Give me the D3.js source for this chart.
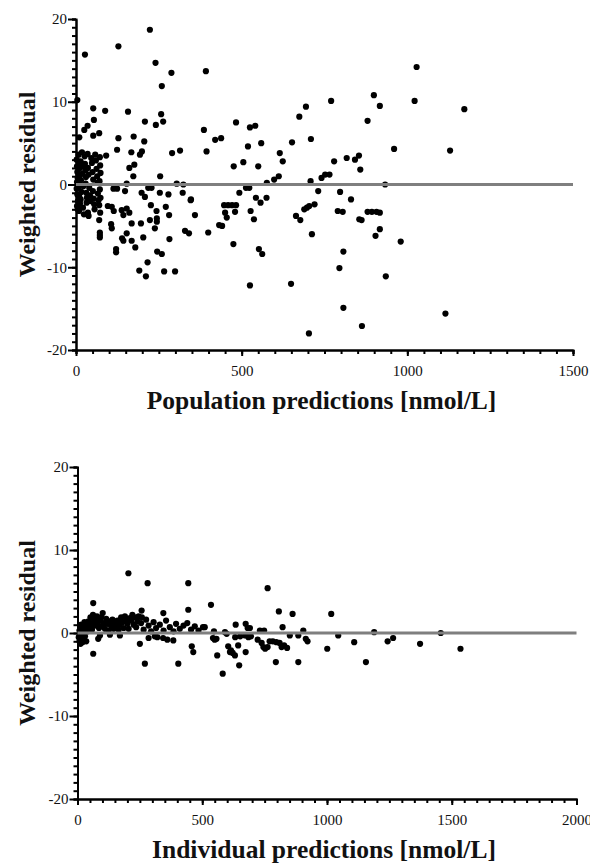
<!DOCTYPE html>
<html>
<head>
<meta charset="utf-8">
<script src="https://cdn.jsdelivr.net/npm/d3@7"></script>
<style>
  body { margin: 0; background: #fff; }
</style>
</head>
<body>
<div id="chart"></div>
<script>
// population predictions (x) and weighted residuals (y), top panel
const popPred = [
  27, 223, 128, 240, 288, 259, 4, 52, 88, 157, 257, 241, 263, 208, 54, 35, 25, 10, 52, 70,
  128, 174, 206, 124, 91, 167, 193, 199, 314, 290, 161, 176, 173, 254, 153, 304, 324, 113, 124, 148,
  198, 208, 218, 228, 253, 279, 322, 346, 359, 96, 108, 114, 138, 153, 161, 143, 226, 243, 271, 281,
  244, 244, 223, 196, 238, 106, 108, 168, 153, 139, 143, 168, 179, 203, 282, 329, 341, 121, 121, 245,
  259, 216, 191, 211, 266, 299, 70, 72, 72, 72, 36, 38, 392, 386, 394, 420, 438, 483, 519, 525,
  541, 559, 476, 505, 550, 615, 624, 652, 674, 694, 709, 770, 779, 817, 842, 854, 858, 880, 899, 917,
  598, 612, 576, 708, 741, 752, 765, 347, 493, 513, 523, 543, 575, 731, 797, 830, 399, 432, 441, 450,
  455, 447, 459, 471, 483, 480, 475, 527, 537, 557, 552, 562, 525, 649, 703, 664, 677, 689, 697, 704,
  720, 712, 790, 805, 795, 807, 807, 855, 862, 880, 893, 907, 904, 917, 863, 1028, 1022, 1172, 960, 1129,
  933, 980, 935, 1115, 917,
  2, 3, 4, 5, 3, 2, 4, 6, 3, 5, 8, 9, 10, 11, 8, 10, 12, 9, 14, 15,
  16, 14, 18, 20, 19, 22, 21, 24, 26, 27, 28, 30, 29, 31, 33, 32, 35, 36, 38, 40,
  42, 44, 46, 48, 50, 52, 51, 53, 55, 56, 58, 60, 62, 64, 65, 66, 68, 70, 72, 73,
  74, 71, 72, 74, 73
];
const popWres = [
  15.7, 18.7, 16.7, 14.7, 13.5, 11.9, 10.2, 9.2, 8.9, 8.8, 8.5, 7.2, 7.6, 7.6, 7.8, 7.1, 6.6, 5.7, 5.9, 6.2,
  5.6, 5.8, 5.2, 4.2, 3.5, 3.9, 3.6, 4.0, 4.1, 3.8, 2.0, 2.4, 1.0, 1.0, 0.1, 0.1, 0, -0.5, -0.5, -0.8,
  -1.0, -1.5, -0.4, -0.4, -1.0, -1.2, -1.0, -1.9, -3.7, -2.6, -2.7, -3.2, -3.1, -2.9, -3.4, -3.7, -2.5, -3.2, -2.7, -3.7,
  -4.1, -4.5, -4.3, -4.7, -5.3, -4.8, -5.3, -4.7, -5.9, -6.5, -6.8, -6.8, -7.6, -6.4, -6.6, -5.6, -5.9, -7.8, -8.2, -8.1,
  -8.4, -9.4, -10.4, -11.1, -10.5, -10.5, -4.3, -5.8, -6.1, -6.4, -3.4, -3.8, 13.7, 6.6, 4.0, 5.4, 5.6, 7.5, 4.6, 6.9,
  7.1, 5.0, 2.2, 2.7, 2.2, 3.8, 2.8, 5.1, 8.2, 9.4, 5.5, 10.1, 2.8, 3.2, 3.0, 3.5, 1.8, 7.7, 10.8, 9.5,
  0.6, 1.0, 0.2, 0.4, 0.8, 1.2, 1.2, -1.8, -1.0, -0.4, -0.4, -1.6, -1.6, -0.8, -0.9, -1.8, -5.8, -4.9, -5.0, -3.4,
  -4.0, -2.5, -2.5, -2.5, -2.5, -3.3, -7.2, -3.2, -4.2, -2.2, -7.8, -8.4, -12.2, -12.0, -18.0, -3.8, -4.3, -3.0, -2.8, -2.6,
  -2.4, -6.0, -3.2, -3.3, -10.1, -8.1, -14.9, -4.2, -4.3, -3.3, -3.3, -3.3, -6.2, -5.4, -17.1, 14.2, 10.1, 9.1, 4.3, 4.1,
  0, -6.9, -11.1, -15.6, -3.4,
  3.0, 2.2, 1.5, 0.8, 0.3, -0.5, -1.2, -2.0, -2.6, -3.0, 3.6, 2.6, 1.9, 1.0, -0.3, -1.5, -2.3, -3.2, 2.8, 0.5,
  -0.9, -1.8, 3.9, 2.2, 1.3, -0.2, -2.8, -3.6, 3.4, 2.5, 1.7, 0.9, 0.1, -1.0, -1.6, -2.2, 3.7, 2.0, 1.2, -0.4,
  -1.3, -2.0, 3.2, 2.6, 1.5, 0.6, -0.8, -1.7, -2.4, -3.0, 3.6, 2.9, 1.9, 1.0, 0.2, -1.1, -1.9, -2.5, 3.3, 2.3,
  1.4, 0.4, -0.6, -1.6, -3.4
];

// individual predictions (x) and weighted residuals (y), bottom panel
const indPred = [
  204, 281, 444, 63, 101, 257, 344, 444, 63, 83, 250, 270, 310, 404, 343, 360, 384, 458, 464, 535,
  762, 807, 862, 1017, 503, 510, 547, 591, 598, 634, 674, 682, 691, 731, 748, 822, 905, 1189, 543, 550,
  557, 560, 582, 604, 611, 622, 631, 615, 644, 648, 632, 652, 672, 685, 695, 674, 722, 738, 745, 752,
  762, 770, 783, 797, 810, 818, 828, 840, 795, 851, 885, 915, 922, 885, 1001, 1045, 1109, 1156, 1243, 1265,
  1373, 1456, 1535,
  5, 8, 10, 12, 15, 18, 20, 25, 30, 35, 8, 12, 15, 20, 25, 28, 32, 36, 40, 44,
  48, 52, 55, 58, 62, 66, 70, 74, 78, 82, 86, 90, 95, 100, 105, 110, 115, 120, 125, 130,
  135, 140, 145, 150, 155, 160, 165, 170, 175, 180, 185, 190, 195, 200, 205, 210, 215, 220, 225, 230,
  235, 240, 245, 255, 265, 275, 285, 295, 305, 315, 330, 345, 355, 370, 385, 395, 410, 425, 440, 455,
  470, 485, 90, 130, 170, 285, 320, 258
];
const indWres = [
  7.2, 6.0, 6.0, 3.6, 2.4, 2.7, 2.4, 2.8, -2.5, -0.7, -1.3, -3.7, -0.4, -3.7, -0.6, -0.8, -0.9, -1.6, -2.3, 3.4,
  5.4, 2.6, 2.3, 2.3, 0.7, 0.7, 0.2, 0.1, -0.1, 1.0, 1.1, 0.6, 0.6, 0.3, 0.3, 0.7, 0.3, 0.1, -0.6, -0.8,
  -0.7, -2.7, -4.9, -1.6, -2.3, -2.4, -2.7, -2.1, -1.5, -3.9, -0.5, -0.4, -0.3, -0.5, -0.4, -2.3, -0.8, -1.2, -1.7, -1.9,
  -1.7, -1.0, -1.0, -1.1, -1.2, -1.7, -1.5, -1.8, -3.5, -0.3, -0.3, -0.7, -1.0, -3.5, -1.9, -0.3, -1.1, -3.5, -1.0, -0.6,
  -1.3, 0.0, -1.9,
  -0.5, -1.0, -0.8, -1.3, -0.3, -0.9, -1.1, -0.6, -0.4, -1.0, 0.3, 0.6, 1.0, 0.4, 0.8, 1.3, 0.5, 1.0, 0.2, 1.4,
  0.7, 1.9, 1.1, 0.4, 2.2, 1.6, 0.9, 1.3, 2.0, 1.0, 0.6, 1.5, 1.9, 0.8, 1.2, 0.5, 1.7, 1.1, 0.3, 1.4,
  0.8, 1.6, 0.5, 1.2, 0.9, 1.5, 0.4, 1.0, 1.9, 1.3, 0.6, 2.0, 1.7, 1.1, 0.5, 1.8, 1.5, 2.2, 1.0, 1.9,
  0.7, 1.4, 2.0, 1.2, 0.4, 1.6, 0.9, 0.2, 1.3, 0.6, 1.0, 0.3, 1.5, 0.7, 0.2, 1.1, 0.5, 0.9, 1.2, 0.4,
  0.8, 0.3, -0.3, -0.2, -0.3, -0.6, -0.5, 1.9
];

const yTicks = [-20, -10, 0, 10, 20];
const popTicks = [0, 500, 1000, 1500];
const indTicks = [0, 500, 1000, 1500, 2000];

const W = 590, H = 865;
const font = "'Liberation Serif', 'Times New Roman', serif";

const svg = d3.select("#chart")
  .append("svg")
    .attr("width", W)
    .attr("height", H)
    .style("background-color", "#fff");

// plain hyphen minus, no thousands separator
const plain = d => String(d);

function drawPanel(xs, ys, xTicks, xMax, box, xTitle) {
  const x = d3.scaleLinear()
    .domain([0, xMax])
    .range([box.left, box.right]);
  const y = d3.scaleLinear()
    .domain([-20, 20])
    .range([box.bottom, box.top]);

  const g = svg.append("g");

  // minor ticks first, then major axis on top
  g.append("g")
    .attr("transform", "translate(0," + box.bottom + ")")
    .call(d3.axisBottom(x).tickValues(d3.range(0, xMax + 1, 50)).tickSize(4).tickFormat(""));
  g.append("g")
    .attr("transform", "translate(" + box.left + ",0)")
    .call(d3.axisLeft(y).tickValues(d3.range(-20, 21, 1)).tickSize(4).tickFormat(""));

  g.append("g")
    .attr("transform", "translate(0," + box.bottom + ")")
    .call(d3.axisBottom(x).tickValues(xTicks).tickSize(6).tickSizeOuter(0)
      .tickPadding(9).tickFormat(plain));
  g.append("g")
    .attr("transform", "translate(" + box.left + ",0)")
    .call(d3.axisLeft(y).tickValues(yTicks).tickSize(8).tickSizeOuter(0)
      .tickPadding(1).tickFormat(plain));

  g.selectAll(".domain, .tick line")
    .attr("stroke", "#000")
    .attr("stroke-width", 2);
  g.selectAll(".tick text")
    .style("font-family", font)
    .style("font-size", "15px")
    .style("fill", "#111");

  g.selectAll("circle")
    .data(d3.range(xs.length))
    .enter()
    .append("circle")
    .attr("cx", i => x(xs[i]))
    .attr("cy", i => y(ys[i]))
    .attr("r", 3.1)
    .attr("fill", "#000");

  // zero reference line, drawn over the dots
  g.append("line")
    .attr("x1", x(0))
    .attr("x2", x(xMax))
    .attr("y1", y(0))
    .attr("y2", y(0))
    .attr("stroke", "#7f7f7f")
    .attr("stroke-width", 3);

  g.append("text")
    .attr("transform", "rotate(-90)")
    .attr("x", -y(0))
    .attr("y", 35)
    .attr("text-anchor", "middle")
    .style("font-family", font)
    .style("font-weight", "bold")
    .style("font-size", "24px")
    .style("fill", "#111")
    .text("Weighted residual");

  g.append("text")
    .attr("x", (box.left + box.right) / 2 - 3)
    .attr("y", box.bottom + 59)
    .attr("text-anchor", "middle")
    .style("font-family", font)
    .style("font-weight", "bold")
    .style("font-size", "25.5px")
    .style("fill", "#111")
    .text(xTitle);
}

drawPanel(popPred, popWres, popTicks, 1500,
  {left: 76, right: 573, top: 19, bottom: 350}, "Population predictions [nmol/L]");
drawPanel(indPred, indWres, indTicks, 2000,
  {left: 77.5, right: 576.5, top: 467, bottom: 799}, "Individual predictions [nmol/L]");
</script>
</body>
</html>
